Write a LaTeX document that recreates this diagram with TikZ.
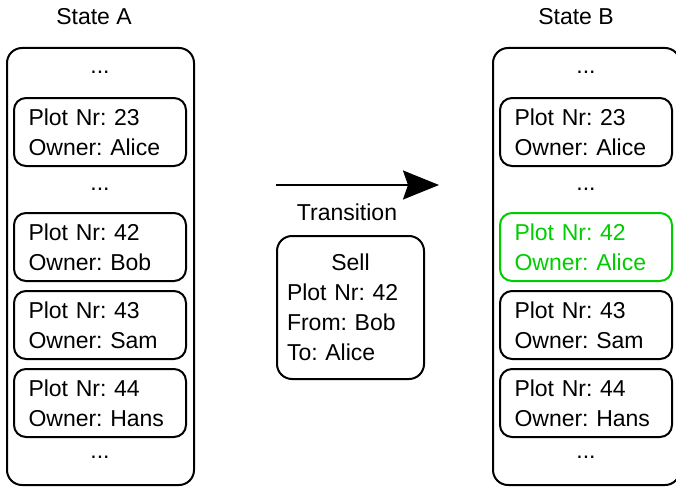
\documentclass[tikz,border=0pt]{standalone}
\usepackage{fontspec}
\setmainfont{Liberation Sans}
\usetikzlibrary{arrows.meta}
\frenchspacing
\definecolor{drawgreen}{RGB}{0,204,0}
\tikzset{
  txt/.style={font=\fontsize{23}{30}\selectfont},
  outerbox/.style={draw, line width=2pt, rounded corners=15pt, minimum width=187pt, minimum height=437pt, inner sep=0pt},
  plotbox/.style={draw, line width=2pt, rounded corners=12pt, txt, text width=143pt, inner xsep=14.5pt, inner ysep=0pt, minimum height=68pt, align=left},
  sellbox/.style={draw, line width=2pt, rounded corners=15pt, txt, text width=127pt, inner xsep=10pt, inner ysep=0pt, minimum height=143pt, align=left},
  dots/.style={txt, anchor=base, inner sep=0pt},
  heading/.style={txt, anchor=base, inner sep=0pt},
}
\begin{document}
\begin{tikzpicture}[x=1pt,y=-1pt]
\useasboundingbox (0,0) rectangle (676,487);

% State A
\node[heading] (labA) at (94,25) {State A};
\node[outerbox] (stA) at (100.5,266.5) {};
\node[dots] (dA1) at (100,74) {...};
\node[plotbox] (a23) at (100,132) {Plot Nr: 23\\Owner: Alice};
\node[dots] (dA2) at (100,190) {...};
\node[plotbox] (a42) at (100,247) {Plot Nr: 42\\Owner: Bob};
\node[plotbox] (a43) at (100,325) {Plot Nr: 43\\Owner: Sam};
\node[plotbox] (a44) at (100,403) {Plot Nr: 44\\Owner: Hans};
\node[dots] (dA3) at (100,458) {...};

% State B
\node[heading] (labB) at (576,25) {State B};
\node[outerbox] (stB) at (586.5,266.5) {};
\node[dots] (dB1) at (586,74) {...};
\node[plotbox] (b23) at (586,132) {Plot Nr: 23\\Owner: Alice};
\node[dots] (dB2) at (586,190) {...};
\node[plotbox, draw=drawgreen, text=drawgreen] (b42) at (586,247) {Plot Nr: 42\\Owner: Alice};
\node[plotbox] (b43) at (586,325) {Plot Nr: 43\\Owner: Sam};
\node[plotbox] (b44) at (586,403) {Plot Nr: 44\\Owner: Hans};
\node[dots] (dB3) at (586,458) {...};

% Transition
\coordinate (arrS) at (276,185);
\coordinate (arrE) at (439,185);
\draw[line width=2pt, -{Stealth[length=36pt,width=29pt,inset=5pt]}] (arrS) -- (arrE);
\node[heading] (trans) at (347,220) {Transition};
\node[sellbox] (sell) at (350.5,307.5) {\makebox[127pt]{Sell}\\Plot Nr: 42\\From: Bob\\To: Alice};
\end{tikzpicture}
\end{document}
